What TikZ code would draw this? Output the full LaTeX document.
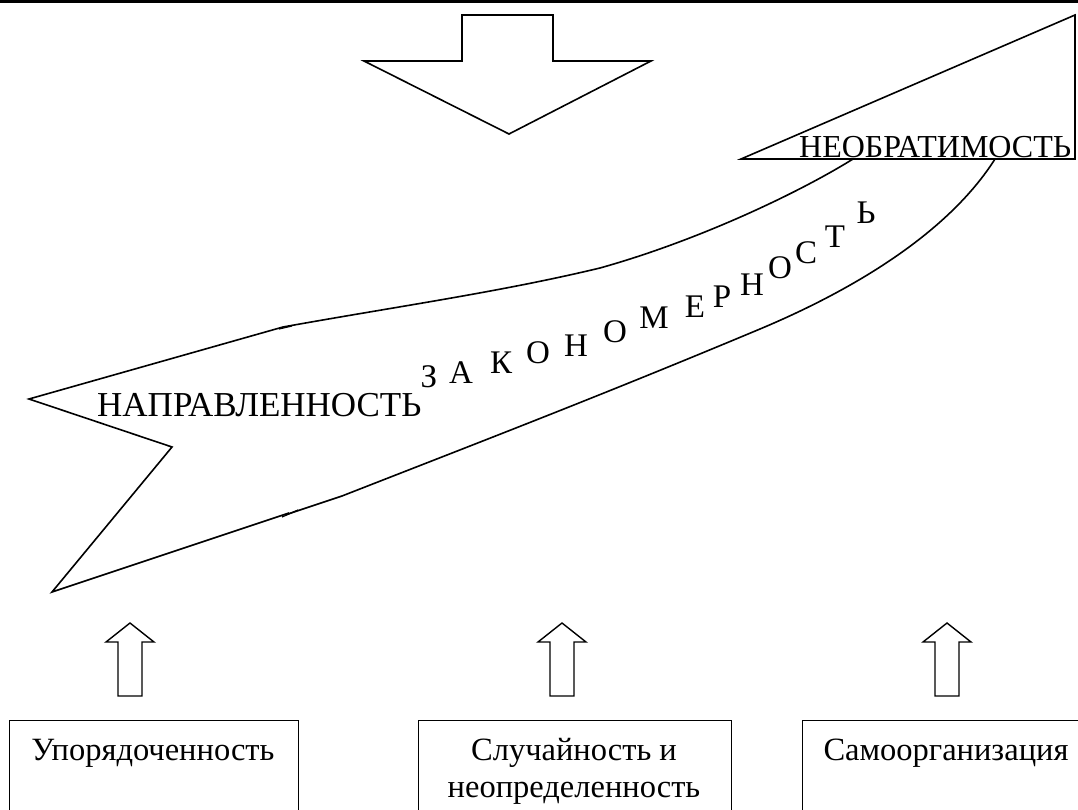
\documentclass[tikz,border=0pt]{standalone}
\usepackage{fontspec}
\setmainfont{Liberation Serif}
\begin{document}
\begin{tikzpicture}[x=1pt,y=-1pt,
  outline/.style={draw=black, line width=1.6pt, line join=miter},
  bigtext/.style={font=\fontsize{32}{37}\selectfont, inner sep=0pt},
  widetext/.style={font=\fontsize{35}{40}\selectfont, inner sep=0pt},
  ribbonletter/.style={font=\fontsize{33}{38}\selectfont, inner sep=0pt},
  boxtext/.style={font=\fontsize{32.5}{37}\selectfont, inner sep=0pt, anchor=base},
  framebox/.style={draw=black, line width=1.3pt, anchor=north west, inner sep=0pt},
  uparrow/.style={draw=black, line width=1.4pt, line join=miter}
]
\useasboundingbox (0,0) rectangle (1078,810);
\clip (0,0) rectangle (1078,810);

% rule across the top
\draw[line width=3pt] (0,1.5) -- (1078,1.5);

% downward block arrow
\draw[outline] (462,15) -- (553,15) -- (553,61) -- (651,61) -- (509,134)
  -- (364,61) -- (462,61) -- cycle;

% right triangle holding the upper label
\draw[outline] (741,159) -- (1075,15) -- (1075,159) -- cycle;
\node[bigtext, anchor=base west] (irrev) at (799,158) {НЕОБРАТИМОСТЬ};

% the curved ribbon arrow: notched tail on the left, open at the triangle
\draw[outline] (853,159)
  .. controls (800,192) and (700,240) .. (600,268)
  .. controls (500,292) and (400,306) .. (283,327)
  -- (29,399) -- (172,447) -- (52,592) -- (289,513);
\draw[outline] (285,515) -- (342,496)
  .. controls (480,442) and (600,396) .. (760,329)
  .. controls (860,287) and (950,230) .. (995,159);
\draw[line width=1.2pt] (279,329) -- (292,326);
\draw[line width=1.2pt] (282,517) -- (298,510);

\node[widetext, anchor=base west] (direct) at (97,416) {НАПРАВЛЕННОСТЬ};

% letters rising along the ribbon
\foreach \ch/\px/\py [count=\i] in {З/429/377, А/461/373, К/501/363, О/538/353,
  Н/576/346, О/615/332, М/654/318, Е/695/307, Р/722/297, Н/752/285,
  О/780/268, С/806/253, Т/835/237, Ь/866/213}
  \node[ribbonletter] (law\i) at (\px,\py) {\ch};

% three small upward block arrows
\foreach \cx/\nm in {130/a1, 562/a2, 947/a3}{
  \draw[uparrow] (\cx,623) -- (\cx+24,642) -- (\cx+12,642) -- (\cx+12,696)
    -- (\cx-12,696) -- (\cx-12,642) -- (\cx-24,642) -- cycle;
}

% boxes along the bottom
\node[framebox, minimum width=289pt, minimum height=120pt] (box1) at (9,720) {};
\node[framebox, minimum width=313pt, minimum height=120pt] (box2) at (418,720) {};
\node[framebox, minimum width=290pt, minimum height=120pt] (box3) at (802,720) {};

\node[boxtext] (order) at (153,760) {Упорядоченность};
\node[boxtext] (chance) at (574,760) {Случайность и};
\node[boxtext] (uncert) at (574,797) {неопределенность};
\node[boxtext] (selforg) at (946,760) {Самоорганизация};
\end{tikzpicture}
\end{document}
